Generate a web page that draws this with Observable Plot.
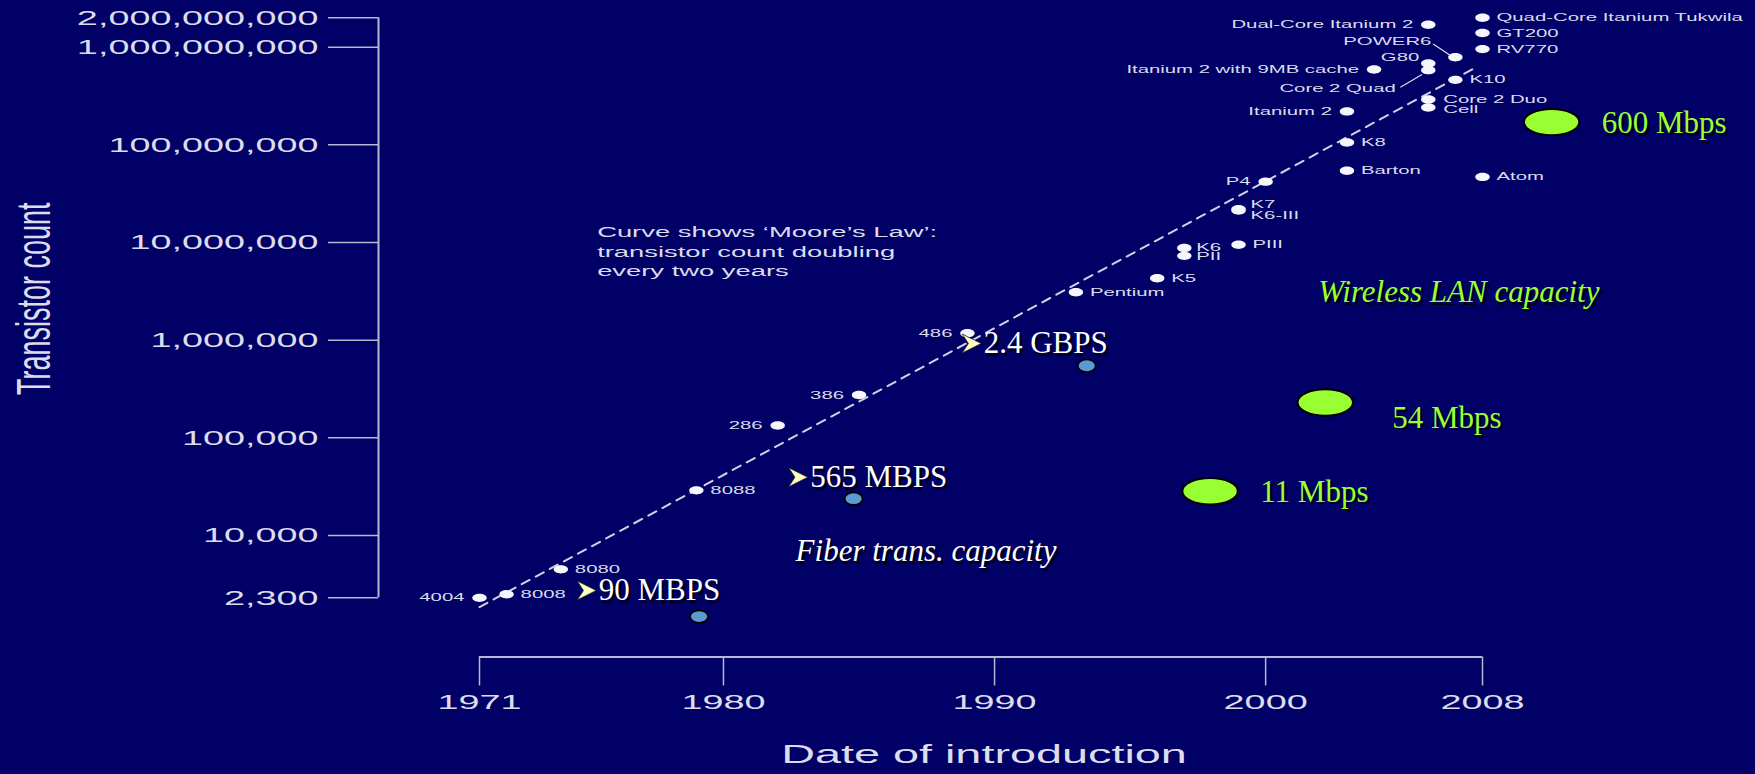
<!DOCTYPE html>
<html><head><meta charset="utf-8">
<script src="https://cdn.jsdelivr.net/npm/d3@7"></script>
<script src="https://cdn.jsdelivr.net/npm/@observablehq/plot@0.6"></script>
<style>
html,body{margin:0;padding:0;background:#000066;overflow:hidden;}
#chart svg{display:block;max-width:none;}
</style></head><body><div id="chart"></div>
<script>
// ---------------- data ----------------
const chipNames = ["4004","8008","8080","8088","286","386","486","Pentium","K5","K6","PII","PIII","K7","K6-III","P4","Barton","K8","Itanium 2","Itanium 2 with 9MB cache","Core 2 Duo","Cell","Core 2 Quad","G80","Dual-Core Itanium 2","POWER6","K10","Atom","RV770","GT200","Quad-Core Itanium Tukwila"];
const chipYears = [1971,1972,1974,1979,1982,1985,1989,1993,1996,1997,1997,1999,1999,1999,2000,2003,2003,2003,2004,2006,2006,2006,2006,2006,2007,2007,2008,2008,2008,2008];
const chipCounts = [2300,2500,4500,29000,134000,275000,1180000,3100000,4300000,8800000,7300000,9500000,22000000,21300000,42000000,54300000,105900000,220000000,592000000,291000000,241000000,582000000,681000000,1700000000,789000000,463000000,47000000,956000000,1400000000,2000000000];
const leftLabeled = ["4004","286","386","486","P4","Itanium 2","Itanium 2 with 9MB cache","Dual-Core Itanium 2"];
const specialLabeled = ["G80","POWER6","Core 2 Quad","K7","K6-III","K6","PII","Core 2 Duo","Cell"];

const mooreYears = [1971, 2007.8];
const mooreCounts = [1850, 630000000];

const xTicks = [1971, 1980, 1990, 2000, 2008];
const yTicks = [2300, 10000, 100000, 1000000, 10000000, 100000000, 1000000000, 2000000000];

const fiberLabels = ["90 MBPS", "565 MBPS", "2.4 GBPS"];
const fiberYears = [1979.1, 1984.8, 1993.4];
const fiberCounts = [1480, 23800, 547000];
const fiberLabelYears = [1975.4, 1983.2, 1989.6];
const fiberLabelCounts = [2735, 39500, 925000];

const wlanLabels = ["11 Mbps", "54 Mbps", "600 Mbps"];
const wlanYears = [1997.95, 2002.2, 2010.55];
const wlanCounts = [28400, 230000, 171000000];
const wlanLabelYears = [1999.8, 2004.67, 2012.4];
const wlanLabelCounts = [27900, 160000, 166000000];

const captionTexts = ["Fiber trans. capacity", "Wireless LAN capacity"];
const captionYears = [1982.66, 2001.94];
const captionCounts = [6850, 3080000];

const noteText = "Curve shows \u2018Moore\u2019s Law\u2019:\ntransistor count doubling\nevery two years";
const noteYear = 1975.34, noteCount = 8300000;

const leaderNames = ["POWER6", "Core 2 Quad"];
const leaderYears1 = [2006.18, 2004.97], leaderCounts1 = [1080000000, 389000000];
const leaderYears2 = [2006.82, 2005.77], leaderCounts2 = [822000000, 525000000];

const yLabel = "Transistor count";
const xLabel = "Date of introduction";

// ---------------- tables ----------------
const chips = chipNames.map((name, i) => ({name, year: chipYears[i], count: chipCounts[i]}));
const moore = mooreYears.map((year, i) => ({year, count: mooreCounts[i]}));
const fiber = fiberLabels.map((label, i) => ({label, year: fiberYears[i], count: fiberCounts[i], ly: fiberLabelYears[i], lc: fiberLabelCounts[i]}));
const wlan = wlanLabels.map((label, i) => ({label, year: wlanYears[i], count: wlanCounts[i], ly: wlanLabelYears[i], lc: wlanLabelCounts[i]}));
const captions = captionTexts.map((text, i) => ({text, year: captionYears[i], count: captionCounts[i]}));
const leaders = leaderNames.map((name, i) => ({name, x1: leaderYears1[i], y1: leaderCounts1[i], x2: leaderYears2[i], y2: leaderCounts2[i]}));

// ---------------- styles ----------------
const S = 1.8; // horizontal stretch of the base chart's lettering
const SANS = "Liberation Sans", SERIF = "Liberation Serif";
const BG = "#000066", AXIS = "#b8b8d2", TXT = "#dcdcea", DOT = "#f6f6fc";
const GREEN = "#99ff33", BLUE = "#5b9bd5";
const LBL = 11.3;

const ellipse = (sx) => ({draw(ctx, size) {
  const r = Math.sqrt(size / Math.PI), rx = r * sx, ry = r, k = 0.5523;
  ctx.moveTo(rx, 0);
  ctx.bezierCurveTo(rx, ry * k, rx * k, ry, 0, ry);
  ctx.bezierCurveTo(-rx * k, ry, -rx, ry * k, -rx, 0);
  ctx.bezierCurveTo(-rx, -ry * k, -rx * k, -ry, 0, -ry);
  ctx.bezierCurveTo(rx * k, -ry, rx, -ry * k, rx, 0);
  ctx.closePath();
}});
const arrowHead = {draw(ctx, size) {
  const r = Math.sqrt(size / Math.PI);
  ctx.moveTo(r, 0);
  ctx.lineTo(-r, -r);
  ctx.lineTo(-r * 0.35, 0);
  ctx.lineTo(-r, r);
  ctx.closePath();
}};

const isLeft = d => leftLabeled.includes(d.name);
const isSpecial = d => specialLabeled.includes(d.name);
const named = n => chips.filter(d => d.name === n);
const chipLabel = (n, anchor, dx, dy) => Plot.text(named(n), {x: "year", y: "count", text: "name", textAnchor: anchor, dx, dy, fontSize: LBL, fontFamily: SANS, fill: TXT});

const shadowText = (data, opts) => [
  Plot.text(data, {...opts, fill: "#000", fillOpacity: 0.85, dx: (opts.dx || 0) + 2.5, dy: (opts.dy || 0) + 2.5}),
  Plot.text(data, opts)
];

const plot = Plot.plot({
  width: 1755,
  height: 774,
  marginLeft: 378,
  marginRight: 0,
  marginTop: 0,
  marginBottom: 117.5,
  style: {background: BG, color: TXT},
  x: {domain: [1971, 2008], range: [479, 1482]},
  y: {type: "log", domain: [1e4, 1e9], range: [535, 46.7]},
  marks: [
    // axes (range-frame style)
    Plot.ruleX([xTicks[0]], {y1: yTicks[0], y2: yTicks[yTicks.length - 1], dx: -101, stroke: AXIS, strokeWidth: 2}),
    Plot.axisY(yTicks, {anchor: "left", tickSize: 50, tickPadding: 10, tickFormat: d3.format(","), fontSize: 21, fontFamily: SANS, stroke: AXIS, fill: TXT, strokeWidth: 1.5, label: null}),
    Plot.ruleY([yTicks[0]], {x1: xTicks[0], x2: xTicks[xTicks.length - 1], dy: 59.2, stroke: AXIS, strokeWidth: 2}),
    Plot.axisX(xTicks, {anchor: "bottom", tickSize: 29, tickPadding: 8, tickFormat: d => String(d), fontSize: 21, fontFamily: SANS, stroke: AXIS, fill: TXT, strokeWidth: 1.5, label: null}),
    Plot.text([yLabel], {frameAnchor: "left", textAnchor: "middle", dx: -344, dy: -30, rotate: -90, fontSize: 27, fontFamily: SANS, fill: TXT}),
    Plot.text([xLabel], {x: () => (xTicks[0] + xTicks[xTicks.length - 1]) / 2, frameAnchor: "bottom", dx: 3, dy: 105.5, fontSize: 26, fontFamily: SANS, fill: TXT}),

    // Moore's law curve + note
    Plot.line(moore, {x: "year", y: "count", stroke: "#d2d2e6", strokeWidth: 2, strokeDasharray: "9 7"}),
    Plot.text([noteText], {x: () => noteYear, y: () => noteCount, textAnchor: "start", lineHeight: 1.27, fontSize: 15.2, fontFamily: SANS, fill: TXT}),

    // chips
    Plot.dot(chips, {x: "year", y: "count", r: 4.2, symbol: ellipse(1.72), fill: DOT}),
    Plot.text(chips.filter(d => !isLeft(d) && !isSpecial(d)), {x: "year", y: "count", text: "name", textAnchor: "start", dx: 14, fontSize: LBL, fontFamily: SANS, fill: TXT}),
    Plot.text(chips.filter(isLeft), {x: "year", y: "count", text: "name", textAnchor: "end", dx: -15, fontSize: LBL, fontFamily: SANS, fill: TXT}),
    chipLabel("K7", "start", 12, -4.5),
    chipLabel("K6-III", "start", 12, 4.5),
    chipLabel("K6", "start", 12, -1),
    chipLabel("PII", "start", 12, 1),
    chipLabel("Core 2 Duo", "start", 15, -0.5),
    chipLabel("Cell", "start", 15, 1.5),
    chipLabel("G80", "end", -9, -6),
    chipLabel("POWER6", "end", -24, -15.6),
    chipLabel("Core 2 Quad", "end", -32.5, 18.7),
    Plot.link(leaders, {x1: "x1", y1: "y1", x2: "x2", y2: "y2", stroke: TXT, strokeWidth: 1.2}),

    // fiber overlay
    Plot.dot(fiber, {x: "year", y: "count", r: 6.3, symbol: ellipse(1.43), fill: BLUE, stroke: "#000", strokeWidth: 1.8}),
    Plot.dot(fiber, {x: "ly", y: "lc", r: 9.5, symbol: arrowHead, dx: -12, fill: "#ffffc4", stroke: "#222", strokeWidth: 0.8}),
    ...shadowText(fiber, {x: "ly", y: "lc", text: "label", textAnchor: "start", fontSize: 31, fontFamily: SERIF, fill: "#ffffff"}),

    // wireless overlay
    Plot.dot(wlan, {x: "year", y: "count", r: 13.2, symbol: ellipse(2.1), fill: GREEN, stroke: "#000", strokeWidth: 2}),
    ...shadowText(wlan, {x: "ly", y: "lc", text: "label", textAnchor: "start", fontSize: 31, fontFamily: SERIF, fill: GREEN}),

    // captions
    ...shadowText(captions.slice(0, 1), {x: "year", y: "count", text: "text", textAnchor: "start", fontSize: 31, fontStyle: "italic", fontFamily: SERIF, fill: "#ffffff"}),
    ...shadowText(captions.slice(1), {x: "year", y: "count", text: "text", textAnchor: "start", fontSize: 31, fontStyle: "italic", fontFamily: SERIF, fill: GREEN})
  ]
});

// stretch the base chart's lettering horizontally, about each label's anchor
plot.querySelectorAll('g[font-family="' + SANS + '"] text').forEach(t => {
  const tr = t.getAttribute("transform") || "";
  const x = +t.getAttribute("x") || 0, y = +t.getAttribute("y") || 0;
  if (tr.includes("rotate(")) {
    t.setAttribute("transform", tr.replace("rotate(", `scale(${S},1) rotate(`));
  } else {
    t.setAttribute("transform", `${tr} translate(${x},${y}) scale(${S},1) translate(${-x},${-y})`);
  }
});

document.getElementById("chart").appendChild(plot);
</script>
</body></html>
